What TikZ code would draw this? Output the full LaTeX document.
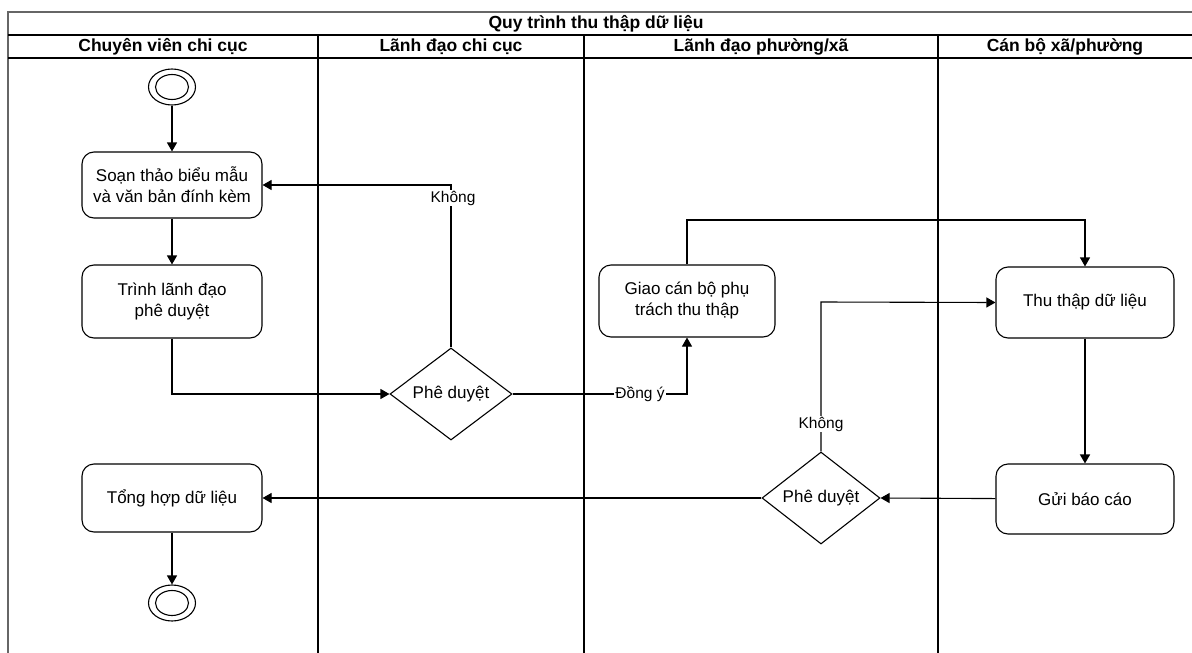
\documentclass[tikz,border=0pt]{standalone}
\usepackage{fontspec}
\setmainfont{Liberation Sans}
\usetikzlibrary{shapes.geometric,arrows.meta}
\tikzset{
  frame/.style={draw=black!60, line width=2pt},
  lane/.style={draw=black, line width=1.1pt},
  hdr/.style={font=\fontsize{17.5}{20}\selectfont\bfseries, anchor=center},
  act/.style={draw=black, line width=1.1pt, rounded corners=12pt, minimum width=180pt, minimum height=70pt, align=center, font=\fontsize{17}{21}\selectfont, inner sep=2pt},
  dec/.style={draw=black, line width=1.1pt, diamond, aspect=1.3, minimum width=122pt, minimum height=92pt, inner sep=0pt, font=\fontsize{17}{21}\selectfont},
  term/.style={draw=black, line width=1.1pt, ellipse, minimum width=47pt, minimum height=36pt, inner sep=0pt},
  termin/.style={draw=black, line width=1.1pt, ellipse, minimum width=33pt, minimum height=25pt, inner sep=0pt},
  flow/.style={draw=black, line width=1.1pt, -{Triangle[length=9pt,width=10pt]}},
  lbl/.style={fill=white, inner sep=1pt, font=\fontsize{15.5}{18}\selectfont},
}
\begin{document}
\begin{tikzpicture}[x=1pt,y=-1pt]
\useasboundingbox (0,0) rectangle (1192,653);
% frame and lanes
\draw[frame] (8,660) -- (8,12) -- (1200,12);
\draw[lane] (8,35) -- (1200,35);
\draw[lane] (8,58) -- (1200,58);
\foreach \x in {318,584,938} \draw[lane] (\x,35) -- (\x,660);
\node[hdr] (title) at (596,23.5) {Quy trình thu thập dữ liệu};
\node[hdr] (h1) at (163,46.5) {Chuyên viên chi cục};
\node[hdr] (h2) at (451,46.5) {Lãnh đạo chi cục};
\node[hdr] (h3) at (761,46.5) {Lãnh đạo phường/xã};
\node[hdr] (h4) at (1065,46.5) {Cán bộ xã/phường};
% nodes
\node[term] (start) at (172,87) {};
\node[termin] at (172,87) {};
\node[act, minimum height=66pt] (soan) at (172,185) {Soạn thảo biểu mẫu\\và văn bản đính kèm};
\node[act, minimum height=73pt] (trinh) at (172,301.5) {Trình lãnh đạo\\phê duyệt};
\node[dec] (d1) at (451,394) {Phê duyệt};
\node[act, minimum width=176pt, minimum height=72pt] (giao) at (687,301) {Giao cán bộ phụ\\trách thu thập};
\node[act, minimum width=178pt, minimum height=71pt] (thu) at (1085,302.5) {Thu thập dữ liệu};
\node[act, minimum width=178pt, minimum height=70pt] (gui) at (1085,499) {Gửi báo cáo};
\node[dec, minimum width=118pt] (d2) at (821,498) {Phê duyệt};
\node[act, minimum height=68pt] (tong) at (172,498) {Tổng hợp dữ liệu};
\node[term] (end) at (172,603) {};
\node[termin] at (172,603) {};
% coordinates
\coordinate (c1) at (172,394);
\coordinate (c2) at (451,185);
\coordinate (c3) at (687,394);
\coordinate (c4) at (687,220);
\coordinate (c5) at (1085,220);
\coordinate (c6) at (821,302);
% connectors
\draw[flow] (start) -- (soan);
\draw[flow] (soan) -- (trinh);
\draw[flow] (trinh.south) -- (c1) -- (d1.west);
\draw[flow] (d1.north) -- (c2) -- (soan.east);
\node[lbl] (k1) at (453,198) {Không};
\draw[flow] (d1.east) -- (c3) -- (giao.south);
\node[lbl] (dy) at (640,394) {Đồng ý};
\draw[flow] (giao.north) -- (c4) -- (c5) -- (thu.north);
\draw[flow, line width=1.5pt] (thu) -- (gui);
\draw[flow] (gui) -- (d2.east);
\draw[flow] (d2.north) -- (c6) -- (thu.west);
\node[lbl] (k2) at (821,424) {Không};
\draw[flow] (d2.west) -- (tong.east);
\draw[flow] (tong) -- (end);
\end{tikzpicture}
\end{document}
